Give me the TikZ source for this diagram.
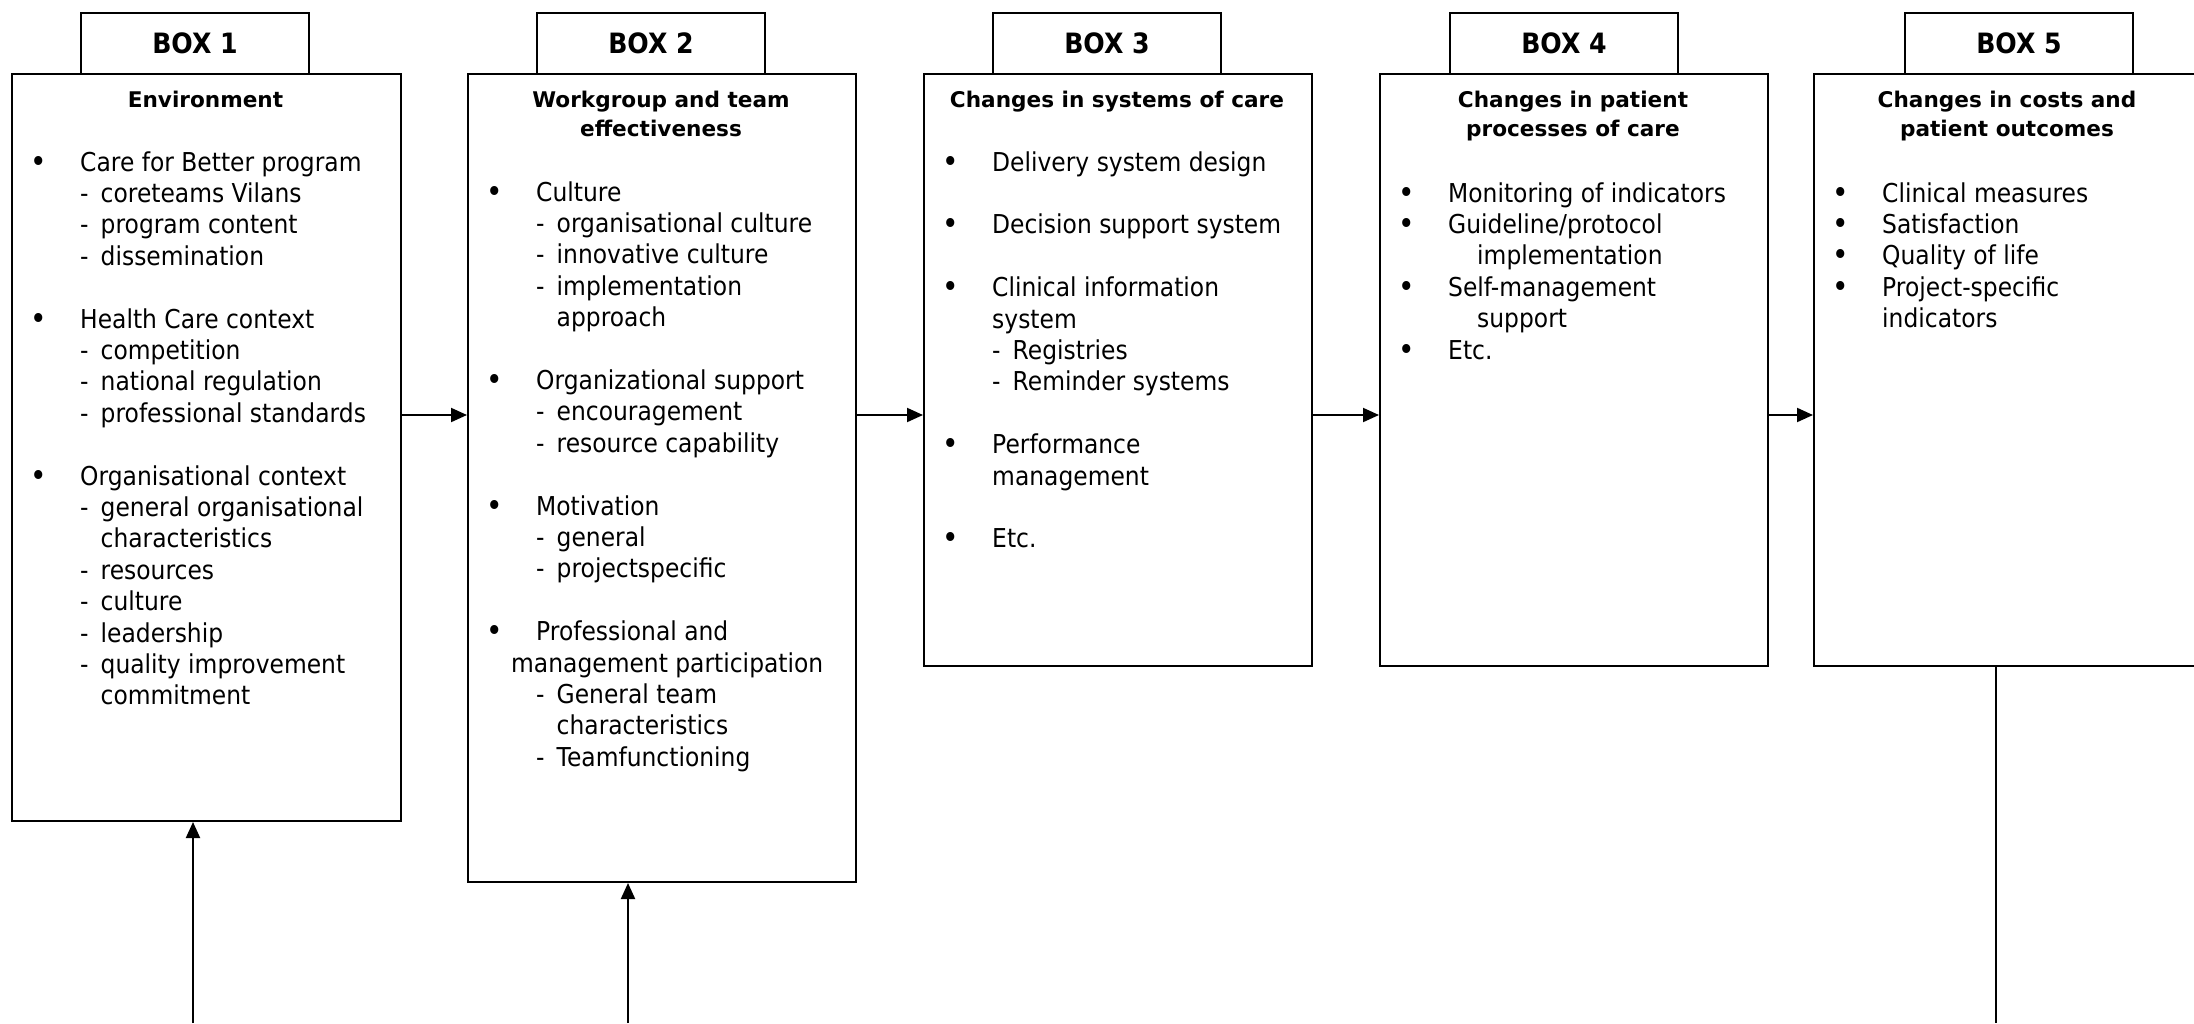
\documentclass[tikz,border=0pt]{standalone}
\usepackage{fontspec}
\setmainfont{DejaVu Sans}
\newfontfamily\bodyfont{DejaVu Sans}[FakeStretch=0.9]
\usetikzlibrary{arrows.meta}
\newcommand{\bul}{\leavevmode\llap{{\fontsize{31}{31}\selectfont\raisebox{-1pt}{\textbullet}}\hspace{33.5pt}}}
\newcommand{\dsh}[1]{\leavevmode\makebox[20.5pt][l]{-}#1}
\newcommand{\bodylines}[1]{\parbox[t]{380pt}{\raggedright #1}}
\newcommand{\titlelines}[1]{\parbox[t]{380pt}{\centering #1}}
\tikzset{
  mainbox/.style={draw, line width=2pt, rectangle, inner sep=0pt, anchor=north west},
  tabbox/.style={draw, line width=2pt, rectangle, inner sep=0pt, anchor=north west,
    minimum width=228pt, minimum height=61pt,
    font=\bodyfont\bfseries\fontsize{28}{30}\selectfont, text height=20.4pt, text depth=0pt},
  titletext/.style={inner sep=0pt, anchor=base, font=\bfseries\fontsize{21.6}{29.5}\selectfont},
  bodytext/.style={inner sep=0pt, anchor=base west, font=\bodyfont\fontsize{26}{31.4}\selectfont},
  flow/.style={line width=2pt, -{Triangle[length=16pt,width=14pt]}},
  plainline/.style={line width=2pt},
}
\begin{document}
\begin{tikzpicture}[x=1pt,y=-1pt]
\useasboundingbox (0,0) rectangle (2194,1023);
\clip (0,0) rectangle (2194,1023);

% tabs
\node[tabbox] (t1) at (80,12) {BOX 1};
\node[tabbox] (t2) at (536,12) {BOX 2};
\node[tabbox] (t3) at (992,12) {BOX 3};
\node[tabbox] (t4) at (1449,12) {BOX 4};
\node[tabbox] (t5) at (1904,12) {BOX 5};

% main boxes
\node[mainbox, minimum width=389pt, minimum height=747pt] (b1) at (11,73) {};
\node[mainbox, minimum width=388pt, minimum height=808pt] (b2) at (467,73) {};
\node[mainbox, minimum width=388pt, minimum height=592pt] (b3) at (923,73) {};
\node[mainbox, minimum width=388pt, minimum height=592pt] (b4) at (1379,73) {};
\node[mainbox, minimum width=388pt, minimum height=592pt] (b5) at (1813,73) {};

% titles
\node[titletext] (h1) at (205.5,107) {\titlelines{Environment}};
\node[titletext] (h2) at (661,107) {\titlelines{Workgroup and team\\effectiveness}};
\node[titletext] (h3) at (1117,107) {\titlelines{Changes in systems of care}};
\node[titletext] (h4) at (1573,107) {\titlelines{Changes in patient\\processes of care}};
\node[titletext] (h5) at (2007,107) {\titlelines{Changes in costs and\\patient outcomes}};

% contents
\node[bodytext] (c1) at (80,171) {\bodylines{%
\bul Care for Better program\\
\dsh{coreteams Vilans}\\
\dsh{program content}\\
\dsh{dissemination}\\[31.4pt]
\bul Health Care context\\
\dsh{competition}\\
\dsh{national regulation}\\
\dsh{professional standards}\\[31.4pt]
\bul Organisational context\\
\dsh{general organisational}\\
\hspace*{20.5pt}characteristics\\
\dsh{resources}\\
\dsh{culture}\\
\dsh{leadership}\\
\dsh{quality improvement}\\
\hspace*{20.5pt}commitment}};

\node[bodytext] (c2) at (536,201) {\bodylines{%
\bul Culture\\
\dsh{organisational culture}\\
\dsh{innovative culture}\\
\dsh{implementation}\\
\hspace*{20.5pt}approach\\[31.4pt]
\bul Organizational support\\
\dsh{encouragement}\\
\dsh{resource capability}\\[31.4pt]
\bul Motivation\\
\dsh{general}\\
\dsh{projectspecific}\\[31.4pt]
\bul Professional and\\
\hspace*{-25pt}management participation\\
\dsh{General team}\\
\hspace*{20.5pt}characteristics\\
\dsh{Teamfunctioning}}};

\node[bodytext] (c3) at (992,171) {\bodylines{%
\bul Delivery system design\\[31.4pt]
\bul Decision support system\\[31.4pt]
\bul Clinical information\\
system\\
\dsh{Registries}\\
\dsh{Reminder systems}\\[31.4pt]
\bul Performance\\
management\\[31.4pt]
\bul Etc.}};

\node[bodytext] (c4) at (1448,202) {\bodylines{%
\bul Monitoring of indicators\\
\bul Guideline/protocol\\
\hspace*{29pt}implementation\\
\bul Self-management\\
\hspace*{29pt}support\\
\bul Etc.}};

\node[bodytext] (c5) at (1882,202) {\bodylines{%
\bul Clinical measures\\
\bul Satisfaction\\
\bul Quality of life\\
\bul Project-specific\\
indicators}};

% connectors
\coordinate (ay) at (0,415);
\draw[flow] (b1.east |- ay) -- (b2.west |- ay);
\draw[flow] (b2.east |- ay) -- (b3.west |- ay);
\draw[flow] (b3.east |- ay) -- (b4.west |- ay);
\draw[flow] (b4.east |- ay) -- (b5.west |- ay);

\coordinate (s1) at (193,1023);
\coordinate (s2) at (628,1023);
\coordinate (s5) at (1996,1023);
\draw[flow] (s1) -- (s1 |- b1.south);
\draw[flow] (s2) -- (s2 |- b2.south);
\draw[plainline] (s5 |- b5.south) -- (s5);
\end{tikzpicture}
\end{document}
